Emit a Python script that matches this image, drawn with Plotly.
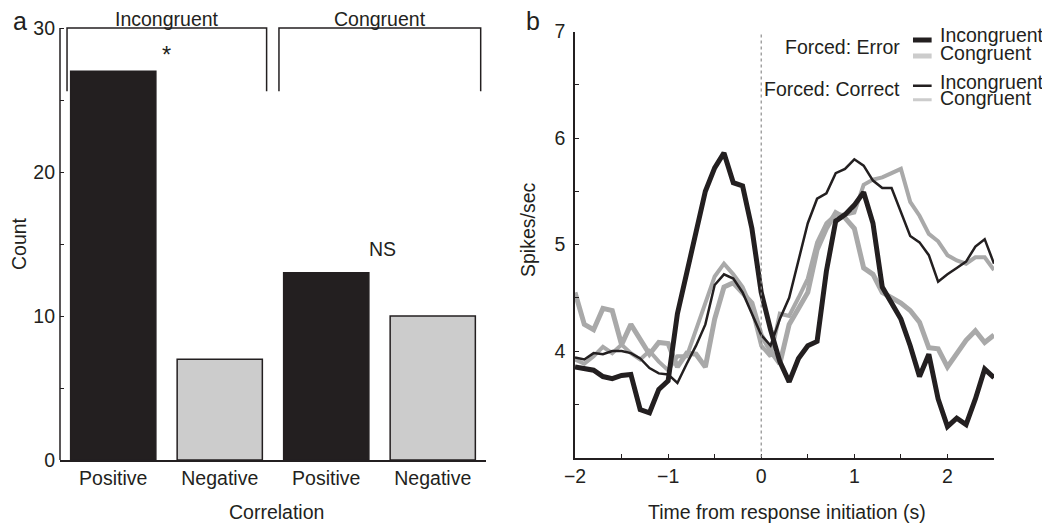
import plotly.graph_objects as go

# ---- panel a: counts of correlated neurons ----
CATEGORIES = ["Positive", "Negative", "Positive", "Negative"]
GROUPS = ["Incongruent", "Incongruent", "Congruent", "Congruent"]
COUNTS = [27, 7, 13, 10]
COUNT_TICKS = [0, 5, 10, 15, 20, 25, 30]
COUNT_LABELS = ["0", "", "10", "", "20", "", "30"]

# ---- panel b: firing rate vs time ----
TIME = [-2.0, -1.9, -1.8, -1.7, -1.6, -1.5, -1.4, -1.3, -1.2, -1.1,
        -1.0, -0.9, -0.8, -0.7, -0.6, -0.5, -0.4, -0.3, -0.2, -0.1,
        0.0, 0.1, 0.2, 0.3, 0.4, 0.5, 0.6, 0.7, 0.8, 0.9,
        1.0, 1.1, 1.2, 1.3, 1.4, 1.5, 1.6, 1.7, 1.8, 1.9,
        2.0, 2.1, 2.2, 2.3, 2.4, 2.5]

ERR_INCONG = [3.85, 3.83, 3.82, 3.76, 3.74, 3.77, 3.78, 3.45, 3.42, 3.64,
              3.72, 4.35, 4.75, 5.10, 5.50, 5.72, 5.86, 5.58, 5.55, 5.15,
              4.55, 4.20, 3.90, 3.71, 3.93, 4.05, 4.09, 4.75, 5.22, 5.28,
              5.37, 5.49, 5.20, 4.60, 4.45, 4.30, 4.05, 3.76, 3.97, 3.55,
              3.29, 3.37, 3.31, 3.55, 3.83, 3.75]

ERR_CONG = [4.55, 4.25, 4.20, 4.40, 4.38, 4.06, 4.25, 4.12, 3.97, 4.08,
            4.07, 3.85, 3.98, 3.97, 3.85, 4.30, 4.60, 4.64, 4.55, 4.45,
            4.15, 4.00, 3.88, 4.25, 4.40, 4.55, 4.95, 5.15, 5.30, 5.25,
            5.15, 4.78, 4.72, 4.55, 4.50, 4.45, 4.38, 4.27, 4.03, 4.02,
            3.85, 3.98, 4.10, 4.19, 4.08, 4.15]

COR_INCONG = [3.94, 3.92, 3.98, 3.97, 4.00, 4.00, 3.98, 3.93, 3.84, 3.79,
              3.78, 3.70, 3.88, 4.05, 4.25, 4.62, 4.72, 4.68, 4.55, 4.35,
              4.15, 4.05, 4.30, 4.50, 4.85, 5.20, 5.43, 5.48, 5.67, 5.71,
              5.80, 5.74, 5.60, 5.53, 5.53, 5.30, 5.08, 5.02, 4.90, 4.65,
              4.72, 4.78, 4.84, 4.98, 5.05, 4.82]

COR_CONG = [3.92, 3.88, 3.95, 4.04, 3.98, 4.06, 3.98, 3.92, 4.00, 3.90,
            3.82, 3.95, 3.95, 4.20, 4.45, 4.70, 4.82, 4.72, 4.60, 4.40,
            4.05, 3.95, 4.35, 4.33, 4.50, 4.68, 5.02, 5.20, 5.28, 5.28,
            5.30, 5.56, 5.61, 5.63, 5.67, 5.71, 5.40, 5.27, 5.10, 5.03,
            4.90, 4.85, 4.82, 4.88, 4.88, 4.76]

TIME_TICKS = [-2, -1.5, -1, -0.5, 0, 0.5, 1, 1.5, 2, 2.5]
TIME_LABELS = ["\u22122", "", "\u22121", "", "0", "", "1", "", "2", ""]
RATE_TICKS = [3, 3.5, 4, 4.5, 5, 5.5, 6, 6.5, 7]
RATE_LABELS = ["", "", "4", "", "5", "", "6", "", "7"]

DARK = "#231f20"
GRAY = "#a9a9a9"
LIGHT = "#cccccc"
FONT = "Liberation Sans, Arial, sans-serif"
FS = 19.5

W, H = 1050, 523
OFF = 8  # page body margin shifts the figure by 8px


def px(x):
    return (x - OFF) / W


def py(y):
    return 1 - (y - OFF) / H


fig = go.Figure()

# panel a bars
fig.add_trace(go.Bar(
    x=list(range(len(COUNTS))), y=COUNTS, width=0.8,
    marker=dict(color=[DARK if c == "Positive" else LIGHT for c in CATEGORIES],
                line=dict(color=DARK, width=1.5)),
    xaxis="x", yaxis="y", showlegend=False,
))

# panel b lines
series = [
    ("Forced: Error Congruent", ERR_CONG, GRAY, 5),
    ("Forced: Correct Congruent", COR_CONG, GRAY, 4),
    ("Forced: Correct Incongruent", COR_INCONG, DARK, 2.5),
    ("Forced: Error Incongruent", ERR_INCONG, DARK, 5),
]
for name, vals, col, w in series:
    fig.add_trace(go.Scatter(
        x=TIME, y=vals, mode="lines", name=name,
        line=dict(color=col, width=w),
        xaxis="x2", yaxis="y2", showlegend=False,
    ))

shapes = []
annotations = []


def text(x, y, s, xref="paper", yref="paper", size=FS, xanchor="center", **kw):
    annotations.append(dict(x=x, y=y, xref=xref, yref=yref, text=s, showarrow=False,
                            xanchor=xanchor, yanchor="middle",
                            font=dict(size=size, color=DARK, family=FONT), **kw))


# panel a: left spine only up to 30
shapes.append(dict(type="line", xref="x domain", yref="y", x0=0, x1=0, y0=0, y1=30,
                   line=dict(color=DARK, width=1.5)))

# brackets over each group
for (xl, xr), label in [((-0.434, 1.44), "Incongruent"), ((1.556, 3.45), "Congruent")]:
    shapes.append(dict(type="path", xref="x", yref="y",
                       path=f"M {xl},25.6 L {xl},30 L {xr},30 L {xr},25.6",
                       line=dict(color=DARK, width=1.5)))
    text((xl + xr) / 2, py(19), label, xref="x")

text(0.5, 28.3, "*", xref="x", yref="y", size=FS + 4, yshift=-3)
text(2.53, 14.65, "NS", xref="x", yref="y")

# panel b: zero line
shapes.append(dict(type="line", xref="x2", yref="y2", x0=0, x1=0, y0=3, y1=7,
                   line=dict(color="#8c8c8c", width=1.2, dash="dot")))

# panel b legend
legend_rows = [
    (6.92, DARK, 5, "Incongruent", 6.97),
    (6.77, LIGHT, 5, "Congruent", 6.80),
    (6.49, DARK, 2.5, "Incongruent", 6.53),
    (6.36, LIGHT, 3, "Congruent", 6.38),
]
for ly, col, w, txt, ty in legend_rows:
    shapes.append(dict(type="line", xref="x2", yref="y2", x0=1.63, x1=1.83, y0=ly, y1=ly,
                       line=dict(color=col, width=w)))
    text(1.895, ty, txt, xref="x2", yref="y2", xanchor="left")
for txt, ty in [("Forced: Error", 6.85), ("Forced: Correct", 6.46)]:
    text(1.51, ty, txt, xref="x2", yref="y2", xanchor="right")

# axis titles and panel letters
text(px(276), py(512), "Correlation")
text(px(787), py(512), "Time from response initiation (s)")
text(px(19), py(244), "Count", textangle=-90)
text(px(528), py(230), "Spikes/sec", textangle=-90)
text(px(20), py(21), "a", size=25)
text(px(533), py(21), "b", size=25)

axis_font = dict(size=FS, color=DARK, family=FONT)
tick_style = dict(ticks="inside", ticklen=4, tickcolor=DARK, tickwidth=1.2)

fig.update_layout(
    width=W, height=H,
    margin=dict(l=0, r=0, t=0, b=0, autoexpand=False),
    plot_bgcolor="white", paper_bgcolor="white",
    font=dict(family=FONT, color=DARK),
    bargap=0.2,
    xaxis=dict(domain=[px(60), px(486)], range=[-0.5, 3.5],
               tickmode="array", tickvals=list(range(len(CATEGORIES))), ticktext=CATEGORIES,
               showline=True, linecolor=DARK, linewidth=1.5, ticks="",
               showgrid=False, zeroline=False, tickfont=axis_font, automargin=False),
    yaxis=dict(domain=[py(460), py(13.6)], range=[0, 31],
               tickmode="array", tickvals=COUNT_TICKS, ticktext=COUNT_LABELS,
               **tick_style, ticklabelstandoff=4,
               showline=False, showgrid=False, zeroline=False, tickfont=axis_font,
               anchor="x", automargin=False),
    xaxis2=dict(domain=[px(575), px(994)], range=[-2, 2.5],
                tickmode="array", tickvals=TIME_TICKS, ticktext=TIME_LABELS,
                **tick_style,
                showline=True, linecolor=DARK, linewidth=1.5,
                showgrid=False, zeroline=False, tickfont=axis_font, anchor="y2",
                automargin=False),
    yaxis2=dict(domain=[py(457.5), py(31.5)], range=[3, 7],
                tickmode="array", tickvals=RATE_TICKS, ticktext=RATE_LABELS,
                **tick_style, ticklabelstandoff=4,
                showline=True, linecolor=DARK, linewidth=1.5,
                showgrid=False, zeroline=False, tickfont=axis_font, anchor="x2",
                automargin=False),
    shapes=shapes,
    annotations=annotations,
)

fig.write_html("out.html")
